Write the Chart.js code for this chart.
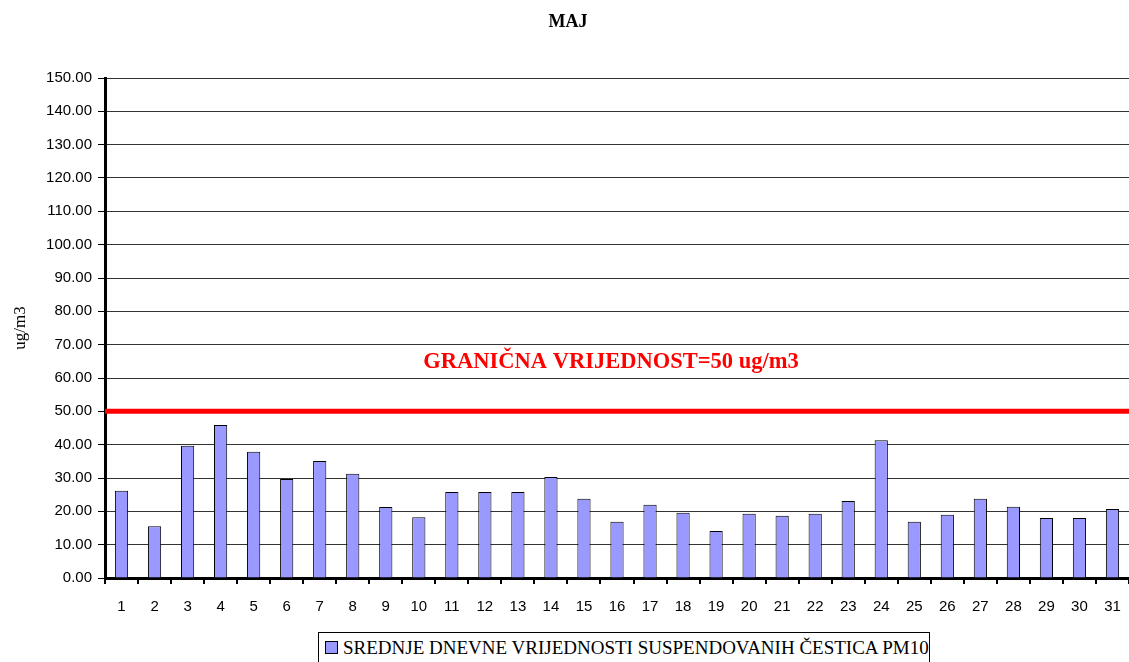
<!DOCTYPE html>
<html>
<head>
<meta charset="utf-8">
<script src="https://cdn.jsdelivr.net/npm/chart.js@4"></script>
<style>
  body { margin: 0; background: #fff; }
  #wrap { position: relative; width: 1129px; height: 662px; overflow: hidden; }
  #legend {
    position: absolute; left: 318px; top: 632px; width: 612px; height: 40px;
    border: 1px solid #000; background: #fff;
    font: 19px "Liberation Serif", "Times New Roman", serif; color: #000;
    box-sizing: border-box; padding: 4px 0 0 6px; white-space: nowrap;
  }
  #legend span.box {
    display: inline-block; width: 11px; height: 11px; background: #9999ff;
    border: 1px solid #000; margin-right: 5px; vertical-align: 0px;
  }
</style>
</head>
<body>
<div id="wrap">
  <canvas id="chart" width="1129" height="662"></canvas>
  <div id="legend"><span class="box"></span>SREDNJE DNEVNE VRIJEDNOSTI SUSPENDOVANIH ČESTICA PM10</div>
</div>
<script>
// May daily PM10 averages
const days = ['1','2','3','4','5','6','7','8','9','10','11','12','13','14','15','16',
    '17','18','19','20','21','22','23','24','25','26','27','28','29','30','31'];
const pm10 = [26.2, 15.5, 39.7, 45.9, 37.9, 29.7, 35.1, 31.3, 21.3, 18.2, 25.8,
    25.8, 25.8, 30.3, 23.8, 16.9, 22.0, 19.6, 14.1, 19.3, 18.7, 19.3, 23.1, 41.3,
    16.9, 19.0, 23.8, 21.4, 18.0, 18.0, 20.7];
const limitValue = 50;
const limitLabel = 'GRANIČNA VRIJEDNOST=50 ug/m3';

// draws title, limit line and its label
const extras = {
    id: 'extras',
    afterDatasetsDraw(chart) {
        const ctx = chart.ctx;
        const area = chart.chartArea;
        const y = chart.scales.y.getPixelForValue(limitValue);
        ctx.save();
        ctx.strokeStyle = '#ff0000';
        ctx.lineWidth = 5;
        ctx.beginPath();
        ctx.moveTo(area.left, y);
        ctx.lineTo(area.right, y);
        ctx.stroke();

        ctx.fillStyle = '#ff0000';
        ctx.font = 'bold 22.5px "Liberation Serif", "Times New Roman", serif';
        ctx.textAlign = 'center';
        ctx.textBaseline = 'middle';
        ctx.fillText(limitLabel, 611, chart.scales.y.getPixelForValue(64.6));

        ctx.fillStyle = '#000';
        ctx.font = 'bold 18px "Liberation Serif", "Times New Roman", serif';
        ctx.fillText('MAJ', 568, 22);
        ctx.restore();
    }
};

new Chart(document.getElementById('chart'), {
    type: 'bar',
    data: {
        labels: days,
        datasets: [{
            label: 'SREDNJE DNEVNE VRIJEDNOSTI SUSPENDOVANIH ČESTICA PM10',
            data: pm10,
            backgroundColor: '#9999ff',
            borderColor: '#000',
            borderWidth: 1,
            barPercentage: 0.8,
            categoryPercentage: 0.5
        }]
    },
    options: {
        responsive: false,
        animation: false,
        layout: { padding: { top: 78, left: 10, right: 0, bottom: 0 } },
        scales: {
            y: {
                min: 0,
                max: 150,
                afterFit(scale) { scale.width = 95; },
                ticks: {
                    stepSize: 10,
                    color: '#000',
                    padding: 6,
                    font: { family: '"Liberation Sans", Arial, sans-serif', size: 15 },
                    callback: v => v.toFixed(2)
                },
                grid: { color: '#333', lineWidth: 1, tickLength: 7, tickColor: '#000' },
                border: { color: '#000', width: 3 },
                title: {
                    display: true,
                    text: 'ug/m3',
                    color: '#000',
                    padding: { top: 0, bottom: 8 },
                    font: { family: '"Liberation Serif", "Times New Roman", serif', size: 17 }
                }
            },
            x: {
                afterFit(scale) { scale.height = 84; },
                ticks: {
                    color: '#000',
                    padding: 4,
                    maxRotation: 0,
                    font: { family: '"Liberation Sans", Arial, sans-serif', size: 15, lineHeight: 2.5 }
                },
                grid: { drawOnChartArea: false, tickLength: 6, color: '#000', lineWidth: 2 },
                border: { color: '#000', width: 3 }
            }
        },
        plugins: {
            legend: { display: false },
            tooltip: { enabled: false }
        }
    },
    plugins: [extras]
});
</script>
</body>
</html>
